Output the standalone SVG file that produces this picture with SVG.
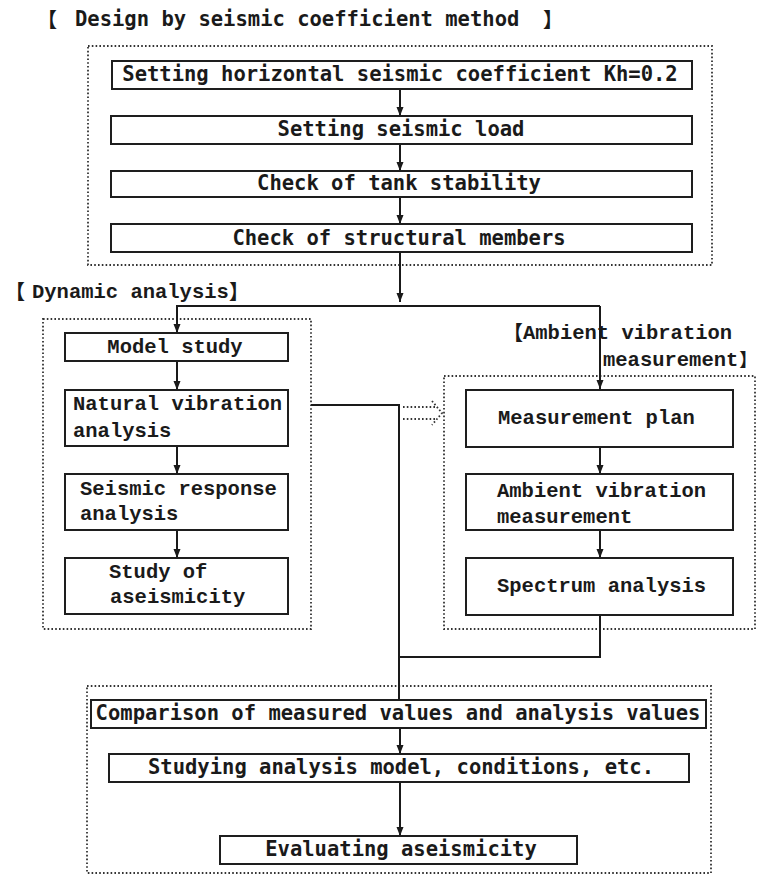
<svg xmlns="http://www.w3.org/2000/svg" width="757" height="876" viewBox="0 0 757 876">
  <defs>
    <marker id="ah" markerUnits="userSpaceOnUse" markerWidth="9" markerHeight="8" refX="9" refY="3.5" orient="auto">
      <path d="M0,0 L9,3.5 L0,7 z" fill="#1a1a1a"/>
    </marker>
  </defs>
  <style>
    .bg { fill: #ffffff; }
    .dot { fill: none; stroke: #333333; stroke-width: 1.8; stroke-dasharray: 1.6 2.2; }
    .box { fill: #ffffff; stroke: #1e1e1e; stroke-width: 2; }
    .con { fill: none; stroke: #1a1a1a; stroke-width: 2; }
    .dcon { fill: none; stroke: #333333; stroke-width: 1.8; stroke-dasharray: 1.6 2.2; }
    .ts { font-family: "DejaVu Sans Mono", "Liberation Mono", monospace; font-size: 20.5px; font-weight: bold; fill: #1a1a1a; }
    .tc { font-family: "Liberation Mono", "DejaVu Sans Mono", monospace; font-size: 20.5px; font-weight: bold; fill: #1a1a1a; }
    .br { font-family: "Noto Sans CJK JP", "DejaVu Sans", sans-serif; font-size: 20px; font-weight: bold; fill: #1a1a1a; }
    .brs { font-family: "Noto Sans CJK JP", "DejaVu Sans", sans-serif; font-size: 18px; font-weight: bold; }
    .mid { text-anchor: middle; }
  </style>
  <rect class="bg" x="0" y="0" width="757" height="876"/>

  <!-- section labels -->
  <g id="label-design">
    <text class="br" x="37" y="27">【</text>
    <text class="ts" x="75" y="26">Design by seismic coefficient method</text>
    <text class="br" x="543" y="27">】</text>
  </g>
  <g id="label-dynamic">
    <text class="br" x="5" y="299">【</text>
    <text class="tc" x="32" y="298">Dynamic analysis</text>
    <text class="br" x="229" y="299">】</text>
  </g>
  <g id="label-ambient">
    <text class="br" x="503" y="340">【</text>
    <text class="tc" x="523" y="339">Ambient vibration</text>
    <text class="tc" x="603" y="366">measurement<tspan class="brs" dx="1">】</tspan></text>
  </g>

  <!-- group frames -->
  <g id="frame-design"><rect class="dot" x="88" y="46" width="624" height="219"/></g>
  <g id="frame-dynamic"><rect class="dot" x="43" y="319" width="268" height="310"/></g>
  <g id="frame-ambient"><rect class="dot" x="444" y="376" width="311" height="253"/></g>
  <g id="frame-evaluation"><rect class="dot" x="87" y="686" width="624" height="187"/></g>

  <!-- connectors -->
  <g id="connectors">
    <path class="con" d="M400,89 V116" marker-end="url(#ah)"/>
    <path class="con" d="M400,144 V171" marker-end="url(#ah)"/>
    <path class="con" d="M400,197 V224" marker-end="url(#ah)"/>
    <path class="con" d="M400,252 V302" marker-end="url(#ah)"/>
    <path class="con" d="M600,306 V389" marker-end="url(#ah)"/>
    <path class="con" d="M600,306 H177 V333" marker-end="url(#ah)"/>
    <path class="con" d="M177,361 V390" marker-end="url(#ah)"/>
    <path class="con" d="M177,446 V474" marker-end="url(#ah)"/>
    <path class="con" d="M177,530 V558" marker-end="url(#ah)"/>
    <path class="con" d="M600,447 V474" marker-end="url(#ah)"/>
    <path class="con" d="M600,530 V558" marker-end="url(#ah)"/>
    <path class="con" d="M311,405 H399 V700"/>
    <path class="con" d="M600,615 V657 H399"/>
    <path class="con" d="M400,728 V754" marker-end="url(#ah)"/>
    <path class="con" d="M400,782 V836" marker-end="url(#ah)"/>
    <path class="dcon" d="M403,407 H437 M403,419 H437 M432,401 L442,413 L432,425"/>
  </g>

  <!-- design by seismic coefficient method -->
  <g id="n-kh">
    <rect class="box" x="112" y="61" width="580" height="28"/>
    <text class="ts mid" x="400" y="81">Setting horizontal seismic coefficient Kh=0.2</text>
  </g>
  <g id="n-load">
    <rect class="box" x="111" y="116" width="581" height="28"/>
    <text class="ts mid" x="401" y="136">Setting seismic load</text>
  </g>
  <g id="n-stability">
    <rect class="box" x="111" y="171" width="581" height="26"/>
    <text class="ts mid" x="399" y="190">Check of tank stability</text>
  </g>
  <g id="n-members">
    <rect class="box" x="111" y="224" width="581" height="28"/>
    <text class="ts mid" x="399" y="245">Check of structural members</text>
  </g>

  <!-- dynamic analysis -->
  <g id="n-model">
    <rect class="box" x="65" y="333" width="223" height="28"/>
    <text class="tc mid" x="175" y="353">Model study</text>
  </g>
  <g id="n-natural">
    <rect class="box" x="65" y="390" width="223" height="56"/>
    <text class="tc" x="73" y="410">Natural vibration</text>
    <text class="tc" x="73" y="437">analysis</text>
  </g>
  <g id="n-response">
    <rect class="box" x="65" y="474" width="223" height="56"/>
    <text class="tc" x="80" y="495">Seismic response</text>
    <text class="tc" x="80" y="520">analysis</text>
  </g>
  <g id="n-aseismicity">
    <rect class="box" x="65" y="558" width="223" height="56"/>
    <text class="tc" x="109" y="578">Study of</text>
    <text class="tc" x="110" y="603">aseismicity</text>
  </g>

  <!-- ambient vibration measurement -->
  <g id="n-plan">
    <rect class="box" x="466" y="390" width="267" height="57"/>
    <text class="tc" x="498" y="424">Measurement plan</text>
  </g>
  <g id="n-ambient">
    <rect class="box" x="466" y="474" width="267" height="56"/>
    <text class="tc" x="497" y="497">Ambient vibration</text>
    <text class="tc" x="497" y="523">measurement</text>
  </g>
  <g id="n-spectrum">
    <rect class="box" x="466" y="558" width="267" height="57"/>
    <text class="tc" x="497" y="592">Spectrum analysis</text>
  </g>

  <!-- evaluation -->
  <g id="n-comparison">
    <rect class="box" x="91" y="700" width="615" height="28"/>
    <text class="ts mid" x="398" y="720">Comparison of measured values and analysis values</text>
  </g>
  <g id="n-studying">
    <rect class="box" x="109" y="754" width="580" height="28"/>
    <text class="ts mid" x="401" y="774">Studying analysis model, conditions, etc.</text>
  </g>
  <g id="n-evaluating">
    <rect class="box" x="220" y="836" width="357" height="28"/>
    <text class="ts mid" x="401" y="856">Evaluating aseismicity</text>
  </g>
</svg>
